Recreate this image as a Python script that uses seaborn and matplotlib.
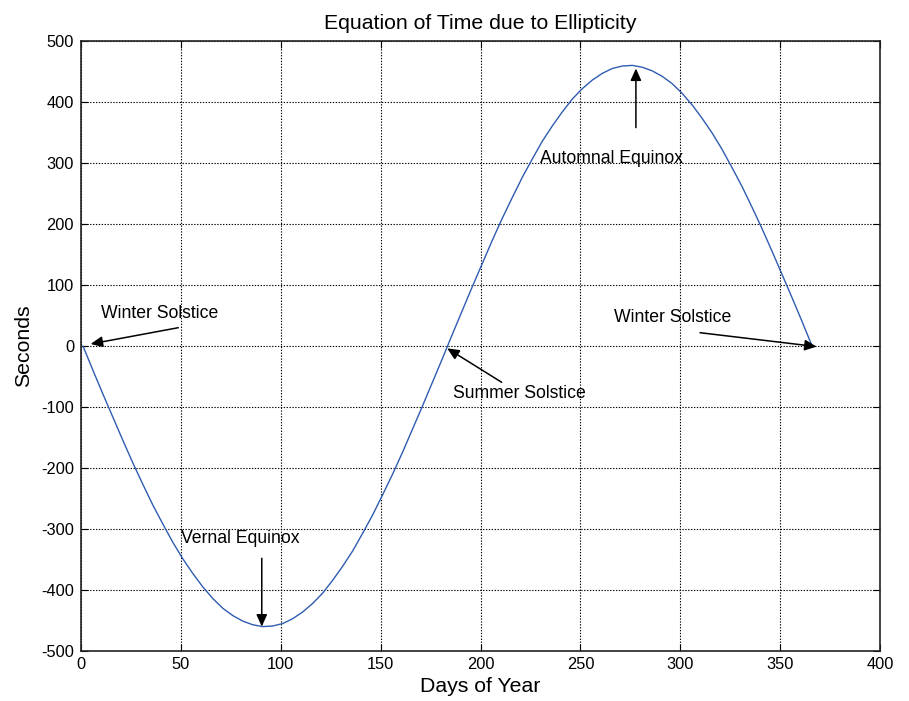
import matplotlib
matplotlib.use("Agg")
import matplotlib.pyplot as plt
import seaborn as sns
import pandas as pd

# ---- data ----
days = [1, 6, 11, 16, 21, 26, 31, 36, 41, 46, 51, 56, 61, 66, 71, 76, 81, 86, 91,
        96, 101, 106, 111, 116, 121, 126, 131, 136, 141, 146, 151, 156, 161, 166,
        171, 176, 181, 186, 191, 196, 201, 206, 211, 216, 221, 226, 231, 236, 241,
        246, 251, 256, 261, 266, 271, 276, 281, 286, 291, 296, 301, 306, 311, 316,
        321, 326, 331, 336, 341, 346, 351, 356, 361, 366]
seconds = [0, -40, -79, -117, -155, -192, -227, -261, -292, -322, -349, -373, -395,
           -414, -430, -442, -451, -457, -460, -459, -455, -447, -436, -422, -405,
           -384, -361, -336, -307, -277, -244, -210, -174, -136, -98, -59, -20,
           20, 59, 98, 136, 174, 210, 244, 277, 307, 336, 361, 384, 405, 422, 436,
           447, 455, 459, 460, 457, 451, 442, 430, 414, 395, 373, 349, 322, 292,
           261, 227, 192, 155, 117, 79, 40, 0]

x_ticks = [0, 50, 100, 150, 200, 250, 300, 350, 400]
y_ticks = [-500, -400, -300, -200, -100, 0, 100, 200, 300, 400, 500]

labels = ["Winter Solstice", "Summer Solstice", "Winter Solstice", "Vernal Equinox", "Automnal Equinox"]
label_x = [9.9, 186.2, 266.8, 49.9, 229.8]
label_y = [53, -78, 47, -315, 308]
arrow_tail_x = [48.7, 210.6, 309.9, 90.5, 277.8]
arrow_tail_y = [30, -59.5, 21.8, -348, 358]
arrow_head_x = [4.8, 183.3, 368.3, 90.5, 277.8]
arrow_head_y = [3.3, -3.8, -1.0, -460, 455]

title = "Equation of Time due to Ellipticity"
xlabel = "Days of Year"
ylabel = "Seconds"

# ---- style ----
sns.set_style("ticks")
plt.rcParams['font.family'] = ['Liberation Sans', 'DejaVu Sans']
plt.rcParams['axes.unicode_minus'] = False
plt.rcParams['text.color'] = 'black'
plt.rcParams['axes.labelcolor'] = 'black'

fig = plt.figure(figsize=(9.09, 7.01), dpi=100)
ax = fig.add_axes([81 / 909, 1 - 651 / 701, (880 - 81) / 909, (651 - 41) / 701])

df = pd.DataFrame({"day": days, "sec": seconds})
sns.lineplot(data=df, x="day", y="sec", ax=ax, color="#2f5cb0", linewidth=1.0)

ax.set_xlim(0, 400)
ax.set_ylim(-500, 500)
ax.set_xticks(x_ticks)
ax.set_yticks(y_ticks)
ax.grid(True, linestyle=(0, (1.2, 1.4)), color="black", linewidth=0.8)

for s in ax.spines.values():
    s.set_visible(True)
    s.set_color("#222222")
    s.set_linewidth(1.2)

ax.tick_params(direction="in", length=5, width=0.8, top=True, right=True,
               labelsize=11.8, colors="black")
ax.tick_params(axis="y", pad=5)
ax.tick_params(axis="x", pad=4)

ax.set_title(title, fontsize=15.3, pad=8.4, color="black")
ax.set_xlabel(xlabel, fontsize=15.3, labelpad=4, color="black")
ax.set_ylabel(ylabel, fontsize=15.3, labelpad=6, color="black")

for t, tx, ty, ax0, ay0, hx, hy in zip(labels, label_x, label_y, arrow_tail_x,
                                        arrow_tail_y, arrow_head_x, arrow_head_y):
    ax.text(tx, ty, t, fontsize=12.7, ha="left", va="center", color="black")
    ax.annotate("", xy=(hx, hy), xytext=(ax0, ay0),
                arrowprops=dict(arrowstyle="-|>,head_length=0.4,head_width=0.18",
                                mutation_scale=18, color="black", lw=1.1,
                                shrinkA=0, shrinkB=0))

fig.savefig("out.png", dpi=100)
